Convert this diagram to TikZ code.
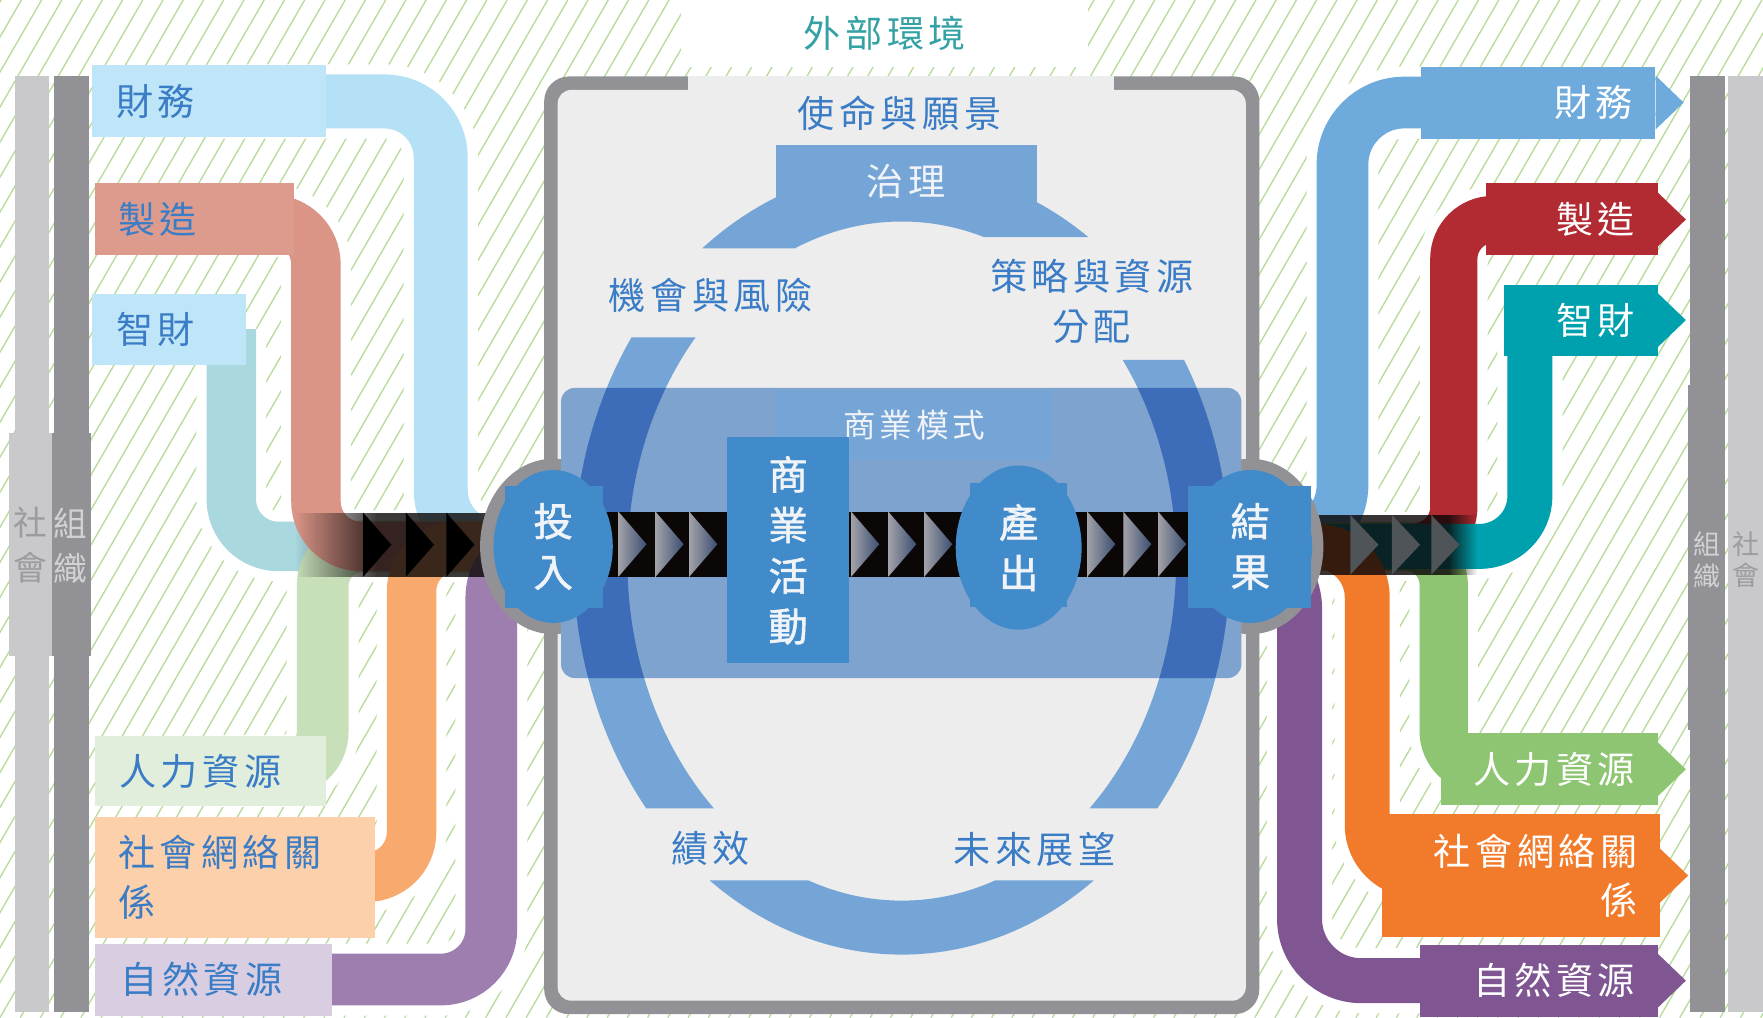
\documentclass[tikz,border=0pt]{standalone}
\usepackage{fontspec}
\usepackage{tikz}
\usetikzlibrary{positioning,calc,shapes.geometric,fadings}

\newfontfamily\cjk[LetterSpace=12]{Noto Sans CJK TC}
\newfontfamily\cjkplain{Noto Sans CJK TC}
\newfontfamily\cjkbold[FakeBold=1.5]{Noto Sans CJK TC}
\newcommand{\lblfont}{\cjk\fontsize{33}{44}\selectfont}
\newcommand{\modelfont}{\cjk\fontsize{29}{34}\selectfont}
\newcommand{\stagefont}{\cjkbold\fontsize{35}{45}\selectfont}
\newcommand{\sidefont}{\cjkplain\fontsize{30}{40}\selectfont}
\newcommand{\sidefontR}{\cjkplain\fontsize{24}{28}\selectfont}

\definecolor{hatchgreen}{HTML}{B7DC9B}
\definecolor{bardark}{HTML}{929296}
\definecolor{barlight}{HTML}{C9C9CC}
\definecolor{sidetxtdark}{HTML}{9B9BA1}
\definecolor{sidetxtlight}{HTML}{D2D2D5}
\definecolor{framefill}{HTML}{EDEDED}
\definecolor{ringblue}{HTML}{75A5D6}
\definecolor{bandblue}{HTML}{7FA3CF}
\definecolor{ringdark}{HTML}{3D6DB8}
\definecolor{nodeblue}{HTML}{428BCA}
\definecolor{nodewhite}{HTML}{F0F3F7}
\definecolor{txtblue}{HTML}{3A7CC6}
\definecolor{txtteal}{HTML}{34A2A5}
\definecolor{pipeblack}{HTML}{0B0707}
\definecolor{chevlight}{HTML}{A2A2A8}
\definecolor{chevdark}{HTML}{3C4E72}
\definecolor{chevgrey}{HTML}{4E5457}
\definecolor{finLbox}{HTML}{BFE6F8}
\definecolor{finLrib}{HTML}{B5E1F7}
\definecolor{manLbox}{HTML}{DC9B8D}
\definecolor{manLrib}{HTML}{DA9587}
\definecolor{ipLrib}{HTML}{A9D8DF}
\definecolor{humLbox}{HTML}{E1EEDB}
\definecolor{humLrib}{HTML}{C7E0B9}
\definecolor{socLbox}{HTML}{FCD0AA}
\definecolor{socLrib}{HTML}{F8A96E}
\definecolor{natLbox}{HTML}{D9CDE1}
\definecolor{natLrib}{HTML}{9E7EAE}
\definecolor{finR}{HTML}{6EAADB}
\definecolor{manR}{HTML}{B22B33}
\definecolor{ipR}{HTML}{00A1AE}
\definecolor{humR}{HTML}{8DC572}
\definecolor{socR}{HTML}{F27B2B}
\definecolor{natR}{HTML}{7F5691}

\tikzfading[name=fadein, left color=transparent!100, right color=transparent!0]
\tikzfading[name=fadeout, left color=transparent!0, right color=transparent!100]

\pgfdeclarelayer{back}
\pgfdeclarelayer{flow}
\pgfdeclarelayer{pipe}
\pgfdeclarelayer{frame}
\pgfsetlayers{back,flow,pipe,frame,main}

\begin{document}
\begin{tikzpicture}[x=1pt, y=-1pt]
		\tikzstyle{inbox} = [rectangle, anchor=north west, inner ysep=0, inner xsep=21, align=left, text=txtblue, font=\lblfont];
		\tikzstyle{outbox} = [rectangle, anchor=north west, inner ysep=0, inner xsep=20, align=right, text=white, font=\lblfont];
		\tikzstyle{stage} = [ellipse, fill=nodeblue, inner sep=0, align=center, text=nodewhite, font=\stagefont];
		\tikzstyle{cycletext} = [align=center, text=txtblue, font=\lblfont];
		\tikzstyle{chev} = [left color=chevlight, right color=chevdark];
		\tikzstyle{ribbon} = [line cap=butt];
		\tikzstyle{halo} = [draw=white, line width=\pgflinewidth+18];
		\tikzstyle{plain} = [];
		\useasboundingbox (0,0) rectangle (1568,905);
		
		% capitals in
		\node[inbox, fill=finLbox, text width=166, minimum height=64] (lfin) at (82,58) {財務};
		\node[inbox, fill=manLbox, text width=135, minimum height=64] (lman) at (84,163) {製造};
		\node[inbox, fill=finLbox, text width=95, minimum height=63] (lip) at (82,261) {智財};
		\node[inbox, fill=humLbox, text width=162, minimum height=63, inner xsep=22] (lhum) at (84,654) {人力資源};
		\node[inbox, fill=socLbox, text width=207, minimum height=108] (lsoc) at (84,726) {社會網絡關\\係};
		\node[inbox, fill=natLbox, text width=165, minimum height=64, inner xsep=23] (lnat) at (84,839) {自然資源};
		
		% capitals out
		\node[outbox, fill=finR, text width=168, minimum height=64] (rfin) at (1264,59) {財務};
		\node[outbox, fill=manR, text width=113, minimum height=64] (rman) at (1321,163) {製造};
		\node[outbox, fill=ipR, text width=97, minimum height=63] (rip) at (1337,253) {智財};
		\node[outbox, fill=humR, text width=153, minimum height=64] (rhum) at (1281,652) {人力資源};
		\node[outbox, fill=socR, text width=207, minimum height=109] (rsoc) at (1229,724) {社會網絡關\\係};
		\node[outbox, fill=natR, text width=171, minimum height=64] (rnat) at (1263,840) {自然資源};
		\foreach \b/\c in {rfin/finR, rman/manR, rip/ipR, rhum/humR, rsoc/socR, rnat/natR}
			\fill[\c] ($(\b.east)+(0,-24)$) -- ($(\b.east)+(25,0)$) -- ($(\b.east)+(0,24)$) -- cycle;
		
		% business model
		\node[fill=ringblue, minimum width=246, minimum height=62, inner sep=0, text=nodewhite, font=\modelfont] (model) at (813,378) {商業模式};
		\node[stage, minimum width=106, minimum height=136] (input) at (492,486) {投\\入};
		\node[rectangle, fill=nodeblue, minimum width=108, minimum height=201, inner sep=0, align=center, text=nodewhite, font=\stagefont] (activity) at (701,489.5) {商\\業\\活\\動};
		\node[stage, minimum width=112, minimum height=146] (product) at (906,487) {產\\出};
		\node[stage, minimum width=110, minimum height=136] (output) at (1112,486) {結\\果};
		
		% cycle texts
		\node[fill=white, minimum width=362, minimum height=60, text=txtteal, font=\lblfont] (env) at (787,30) {外部環境};
		\node[cycletext] (mission) at (800,101) {使命與願景};
		\node[fill=ringblue, minimum width=232, minimum height=64, text=nodewhite, font=\lblfont] (gov) at (806,161) {治理};
		\node[cycletext] (risk) at (632,263) {機會與風險};
		\node[cycletext] (strategy) at (971,268) {策略與資源\\分配};
		\node[cycletext] (perf) at (632,755) {績效};
		\node[cycletext] (outlook) at (920,755) {未來展望};
		
		% side bars
		\node[align=center, text=sidetxtdark, font=\sidefont] (socL) at (27,485) {社\\會};
		\node[align=center, text=sidetxtlight, font=\sidefont] (orgL) at (63,485) {組\\織};
		\node[align=center, text=sidetxtlight, font=\sidefontR] (orgR) at (1518,498) {組\\織};
		\node[align=center, text=sidetxtdark, font=\sidefontR] (socR) at (1553,498) {社\\會};
		
		\begin{pgfonlayer}{back}
			\fill[white] (0,0) rectangle (1568,905);
			\begin{scope}
				\clip (0,0) rectangle (1568,905);
				\foreach \i in {-540,-522,...,1580}
					\draw[hatchgreen, line width=1.2] (\i,905) -- ++(523,-905);
			\end{scope}
			\fill[barlight] (13,68) rectangle (44,900);
			\fill[bardark] (48,68) rectangle (79,900);
			\fill[barlight] (8,385) rectangle (46,583);
			\fill[bardark] (46,385) rectangle (81,583);
			\fill[bardark] (1503,68) rectangle (1534,900);
			\fill[barlight] (1537,68) rectangle (1568,900);
			\fill[bardark] (1501,342) rectangle (1534,649);
		\end{pgfonlayer}
		
		\begin{pgfonlayer}{flow}
			\foreach \pass in {halo,plain} {
				\draw[ribbon, line width=48, draw=finLrib, rounded corners=50, \pass] (lfin.center) -| ($(input.center)+(-100,0)$) -- (input.center);
				\draw[ribbon, line width=44, draw=ipLrib, rounded corners=42, \pass] ($(lip.center)+(55,0)$) |- (input.center);
				\draw[ribbon, line width=46, draw=humLrib, rounded corners=35, \pass] (lhum.center) -| ($(input.center)+(-205,0)$) -- (input.center);
				\draw[ribbon, line width=44, draw=manLrib, rounded corners=40, \pass] (lman.center) -| ($(input.center)+(-211,0)$) -- (input.center);
				\draw[ribbon, line width=44, draw=socLrib, rounded corners=40, \pass] (lsoc.center) -| ($(input.center)+(-126,0)$) -- (input.center);
				\draw[ribbon, line width=46, draw=natLrib, rounded corners=45, \pass] (lnat.center) -| ($(input.center)+(-55,0)$) -- (input.center);
				\draw[ribbon, line width=46, draw=finR, rounded corners=55, \pass] (output.center) -- ++(82,0) |- (rfin.center);
				\draw[ribbon, line width=42, draw=manR, rounded corners=35, \pass] (output.center) -- ++(181,0) |- (rman.center);
				\draw[ribbon, line width=43, draw=humR, rounded corners=34, \pass] (output.center) -- ++(172,0) |- (rhum.center);
				\draw[ribbon, line width=40, draw=ipR, rounded corners=45, \pass] (output.center) -| ($(rip.center)+(-45,15)$);
				\draw[ribbon, line width=40, draw=socR, rounded corners=45, \pass] (output.center) -- ++(104,0) |- (rsoc.center);
				\draw[ribbon, line width=40, draw=natR, rounded corners=55, \pass] (output.west) -- ++(99,0) |- (rnat.center);
			}
		\end{pgfonlayer}
		
		\begin{pgfonlayer}{pipe}
			\fill[pipeblack, fill opacity=0.8, path fading=fadein] (262,456) rectangle (335,513);
			\fill[pipeblack, fill opacity=0.8] (335,456) rectangle (445,513);
			\foreach \x in {323,361,397}
				\fill[black] (\x,456) -- (\x+25,484.5) -- (\x,513) -- cycle;
			\fill[pipeblack, fill opacity=0.82] (1160,458) rectangle (1288,511);
			\fill[pipeblack, fill opacity=0.82, path fading=fadeout] (1288,458) rectangle (1314,511);
			\foreach \x in {1201,1238,1273}
				\fill[chevgrey] (\x,458) -- (\x+25,484.5) -- (\x,511) -- cycle;
		\end{pgfonlayer}
		
		\begin{pgfonlayer}{frame}
			\fill[bardark, rounded corners=22] (484,68) rectangle (1120,902);
			\fill[framefill, rounded corners=12] (496,80) rectangle (1108,890);
			\fill[framefill] (612,68) rectangle (991,85);
			\fill[bardark] (input.center) ellipse [x radius=65, y radius=78];
			\fill[bardark] (output.center) ellipse [x radius=65, y radius=78];
			\begin{scope}
				\clip (480,0) rectangle (802,221) (802,0) rectangle (1125,211)
					(480,300) rectangle (802,719) (802,320) rectangle (1125,719)
					(480,783) rectangle (1125,905);
				\draw[ringblue, line width=48] (802,499) ellipse [x radius=268, y radius=326];
			\end{scope}
			\fill[bandblue, rounded corners=12] (499,345) rectangle (1104,603);
			\begin{scope}
				\clip[rounded corners=12] (499,345) rectangle (1104,603);
				\draw[ringdark, line width=48] (802,499) ellipse [x radius=268, y radius=326];
			\end{scope}
			\fill[pipeblack] (536,455) rectangle (1057,513);
			\foreach \x in {550,583,613,757,790,822,967,999,1030}
				\shade[chev] (\x,455) -- (\x+25,484) -- (\x,513) -- cycle;
			\fill[nodeblue] ($(input.center)+(-43,-54)$) rectangle ($(input.center)+(44,55)$);
			\fill[nodeblue] ($(product.center)+(-43,-57)$) rectangle ($(product.center)+(43,53)$);
			\fill[nodeblue] ($(output.center)+(-55,-54)$) rectangle ($(output.center)+(54,55)$);
		\end{pgfonlayer}
\end{tikzpicture}
\end{document}
